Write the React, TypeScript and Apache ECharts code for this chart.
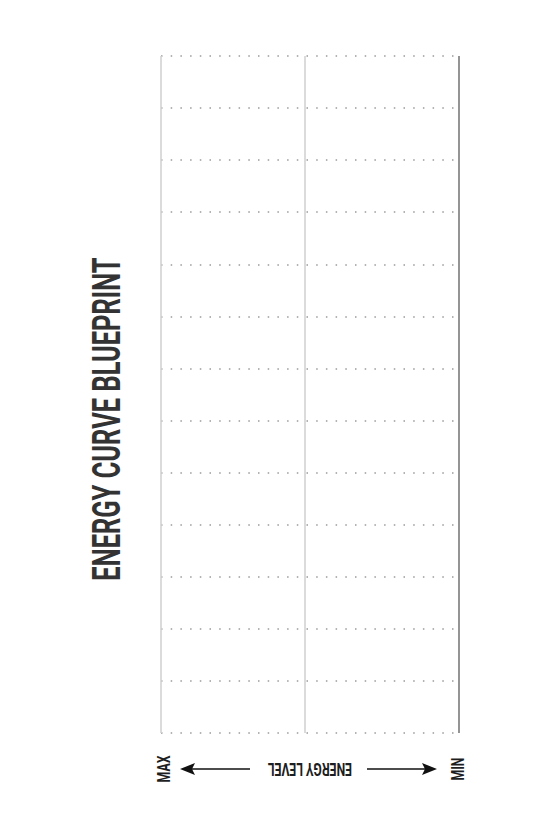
import React, { useEffect, useRef } from "react";
import * as echarts from "echarts";

const title = "ENERGY CURVE BLUEPRINT";
const axisCaption = "ENERGY LEVEL";
const levelEnds = ["MAX", "MIN"];
const rowTicks = [0, 1, 2, 3, 4, 5, 6, 7, 8, 9, 10, 11, 12, 13];
const energyDomain = [0, 100];
const guideMarks = [0, 48.3, 100];
const curvePoints: number[][] = [];

const FONT = "Roboto, 'Liberation Sans', sans-serif";

export default function App() {
  const ref = useRef<HTMLDivElement>(null);
  useEffect(() => {
    if (!ref.current) return;
    const chart = echarts.init(ref.current, undefined, { renderer: "svg" });
    const arrowY = 769;
    const guideColors = ["#d2d2d2", "#d2d2d2", "#7a7a7a"];
    const smallText = (text: string, x: number, rotation: number) => ({
      type: "text",
      x,
      y: arrowY,
      rotation,
      scaleX: 0.68,
      style: {
        text,
        font: `bold 18px ${FONT}`,
        fill: "#1e1e1e",
        align: "center",
        verticalAlign: "middle",
      },
    });
    chart.setOption({
      animation: false,
      backgroundColor: "#ffffff",
      grid: { left: 161, top: 56, width: 298, height: 677, containLabel: false },
      xAxis: {
        type: "value",
        min: energyDomain[0],
        max: energyDomain[1],
        axisLine: { show: false },
        axisTick: { show: false },
        axisLabel: { show: false },
        splitLine: { show: false },
      },
      yAxis: {
        type: "value",
        min: rowTicks[0],
        max: rowTicks[rowTicks.length - 1],
        interval: 1,
        axisLine: { show: false },
        axisTick: { show: false },
        axisLabel: { show: false },
        splitLine: { show: true, lineStyle: { color: "#9a9a9a", width: 1.5, type: [1.5, 8.2] } },
      },
      series: [
        {
          type: "line",
          data: curvePoints,
          showSymbol: false,
          markLine: {
            silent: true,
            symbol: "none",
            label: { show: false },
            data: guideMarks.map((v, i) => ({
              xAxis: v,
              lineStyle: { color: guideColors[i], width: 1.6, type: "solid" },
            })),
          },
        },
      ],
      graphic: [
        {
          type: "text",
          x: 107,
          y: 419,
          rotation: Math.PI / 2,
          scaleX: 0.67,
          style: {
            text: title,
            font: `bold 38px ${FONT}`,
            fill: "#333333",
            align: "center",
            verticalAlign: "middle",
          },
        },
        smallText(levelEnds[0], 164, Math.PI / 2),
        smallText(levelEnds[1], 458, Math.PI / 2),
        smallText(axisCaption, 310, Math.PI),
        {
          type: "line",
          shape: { x1: 190, y1: arrowY, x2: 250, y2: arrowY },
          style: { stroke: "#111111", lineWidth: 1.7 },
        },
        {
          type: "polygon",
          shape: { points: [[180, arrowY], [195, arrowY - 6], [192, arrowY], [195, arrowY + 6]] },
          style: { fill: "#111111" },
        },
        {
          type: "line",
          shape: { x1: 367, y1: arrowY, x2: 428, y2: arrowY },
          style: { stroke: "#111111", lineWidth: 1.7 },
        },
        {
          type: "polygon",
          shape: { points: [[437, arrowY], [422, arrowY - 6], [425, arrowY], [422, arrowY + 6]] },
          style: { fill: "#111111" },
        },
      ],
    });
    return () => chart.dispose();
  }, []);
  return (
    <div
      ref={ref}
      style={{ position: "fixed", left: 0, top: 0, width: 550, height: 830 }}
    />
  );
}
